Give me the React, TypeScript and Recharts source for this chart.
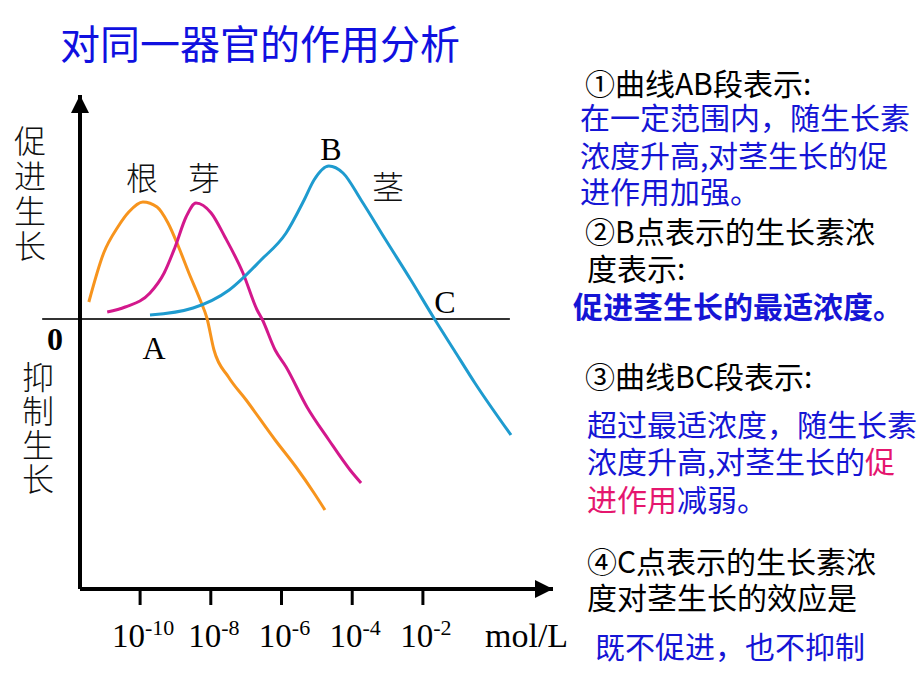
import React from 'react';
import { ComposedChart, Line, XAxis, YAxis, ReferenceLine, ReferenceDot } from 'recharts';

// x: log10 of auxin concentration (mol/L); y: effect on growth (+ promote, - inhibit)
const rootLogConc = [-11.45, -11.03, -10.63, -10.32, -9.92, -9.52, -9.21, -8.91, -8.62, -8.3, -8.11, -7.91, -7.5, -7.0, -6.18, -5.59, -5.08, -4.77];
const rootEffect = [1.7, 6.6, 9.2, 10.7, 11.7, 11.2, 9.6, 7.2, 4.6, 1.9, 0.1, -3.1, -5.8, -8.1, -12.1, -14.8, -17.4, -19.1];
const budLogConc = [-10.93, -10.42, -9.72, -9.32, -9.01, -8.7, -8.42, -7.99, -7.6, -7.09, -6.69, -6.55, -6.18, -5.87, -5.28, -4.66, -4.06, -3.75];
const budEffect = [0.7, 1.2, 2.6, 4.6, 7.2, 10.2, 11.6, 10.6, 8.2, 4.6, 0.9, 0, -3.1, -4.8, -8.8, -12.1, -15.1, -16.4];
const stemLogConc = [-9.72, -8.5, -7.48, -6.58, -5.87, -5.36, -5.08, -4.66, -4.26, -3.75, -3.05, -2.34, -1.69, -1.12, -0.53, 0.49];
const stemEffect = [0.4, 1.1, 2.9, 5.9, 8.6, 11.9, 13.9, 15.3, 14.6, 11.9, 7.9, 3.9, 0.1, -3.1, -6.4, -11.6];
const tickExponents = [-10, -8, -6, -4, -2];
const xDomain = [-11.7, 1.68];
const yDomain = [-27, 22.4];
const zeroLineExtent = [-12.77, 0.46];

const zip = (xs: number[], ys: number[]) => xs.map((x, i) => ({ x, y: ys[i] }));
const rootData = zip(rootLogConc, rootEffect);
const budData = zip(budLogConc, budEffect);
const stemData = zip(stemLogConc, stemEffect);

const CJK = '"CJKTight", "Noto Sans CJK SC", "Noto Sans", sans-serif';
const SERIF = '"Liberation Serif", "Times New Roman", serif';
const BLUE = '#1515D5';
const PINK = '#E5166E';

const FONT_CSS = `
@font-face { font-family: "CJKTight"; font-weight: 300; src: local("Noto Sans CJK SC Light"), local("NotoSansCJKsc-Light"), local("Noto Sans CJK SC Regular"), local("NotoSansCJKsc-Regular"), local("Noto Sans CJK SC"); ascent-override: 88%; descent-override: 12%; line-gap-override: 0%; }
@font-face { font-family: "CJKTight"; font-weight: 400; src: local("Noto Sans CJK SC Regular"), local("NotoSansCJKsc-Regular"), local("Noto Sans CJK SC"); ascent-override: 88%; descent-override: 12%; line-gap-override: 0%; }
@font-face { font-family: "CJKTight"; font-weight: 700; src: local("Noto Sans CJK SC Bold"), local("NotoSansCJKsc-Bold"); ascent-override: 88%; descent-override: 12%; line-gap-override: 0%; }
`;

const PowerTick = (props: any) => {
  const { x, y, payload } = props;
  return (
    <text x={x + 3} y={y + 40} textAnchor="middle" fontFamily={SERIF} fill="#000">
      <tspan fontSize={33}>10</tspan>
      <tspan fontSize={22} dy={-12}>{String(payload.value)}</tspan>
    </text>
  );
};

const RightArrow = (props: any) => {
  const { cx, cy } = props;
  return <polygon points={`${cx},${cy} ${cx - 18},${cy - 9} ${cx - 18},${cy + 9}`} fill="#000" />;
};
const UpArrow = (props: any) => {
  const { cx, cy } = props;
  return <polygon points={`${cx},${cy} ${cx - 9},${cy + 18} ${cx + 9},${cy + 18}`} fill="#000" />;
};

const abs = (left: number, top: number, extra: React.CSSProperties = {}): React.CSSProperties => ({
  position: 'absolute', left, top, whiteSpace: 'nowrap', ...extra,
});

const VerticalLabel = ({ text, left, top, spacing }: { text: string; left: number; top: number; spacing: number }) => (
  <div
    style={abs(left, top, {
      writingMode: 'vertical-rl', textOrientation: 'upright', fontFamily: CJK, fontSize: 32,
      lineHeight: '32px', letterSpacing: spacing, fontWeight: 300, color: '#111',
    })}
  >
    {text}
  </div>
);

const Letter = ({ ch, cx, cy, bold }: { ch: string; cx: number; cy: number; bold?: boolean }) => (
  <div
    style={abs(cx - 20, cy - 16, {
      width: 40, textAlign: 'center', fontFamily: SERIF, fontSize: 32, lineHeight: '32px',
      fontWeight: bold ? 700 : 400, color: '#000',
    })}
  >
    {ch}
  </div>
);

const Organ = ({ ch, cx, cy }: { ch: string; cx: number; cy: number }) => (
  <div style={abs(cx - 16, cy - 16, { fontFamily: CJK, fontSize: 32, lineHeight: '32px', fontWeight: 300, color: '#111' })}>
    {ch}
  </div>
);

type Seg = { t: string; c: string };
const TextLine = ({ left, cy, segs, bold, size = 30 }: { left: number; cy: number; segs: Seg[]; bold?: boolean; size?: number }) => (
  <div
    style={abs(left, cy - Math.round(size * 0.5), {
      fontFamily: CJK, fontSize: size, lineHeight: `${size}px`, fontWeight: bold ? 700 : 400,
    })}
  >
    {segs.map((s, i) => (
      <span key={i} style={{ color: s.c }}>{s.t}</span>
    ))}
  </div>
);

export default function App() {
  return (
    <div style={{ position: 'absolute', left: 0, top: 0, width: 920, height: 690, background: '#fff', overflow: 'hidden' }}>
      <style>{FONT_CSS}</style>
      <ComposedChart
        width={920}
        height={690}
        margin={{ top: 95, right: 367, bottom: 41, left: 20 }}
      >
        <XAxis
          type="number"
          dataKey="x"
          domain={xDomain}
          allowDataOverflow
          ticks={tickExponents}
          tick={<PowerTick />}
          tickSize={16}
          tickLine={{ stroke: '#000', strokeWidth: 3 }}
          axisLine={{ stroke: '#000', strokeWidth: 4 }}
          height={60}
          interval={0}
        />
        <YAxis
          type="number"
          domain={yDomain}
          allowDataOverflow
          tick={false}
          tickLine={false}
          axisLine={{ stroke: '#000', strokeWidth: 4 }}
          width={60}
        />
        <ReferenceLine
          segment={[{ x: zeroLineExtent[0], y: 0 }, { x: zeroLineExtent[1], y: 0 }]}
          stroke="#333"
          strokeWidth={2}
          ifOverflow="visible"
        />
        <Line data={rootData} dataKey="y" type="monotone" stroke="#F7941D" strokeWidth={3} dot={false} isAnimationActive={false} />
        <Line data={budData} dataKey="y" type="monotone" stroke="#D3188C" strokeWidth={3} dot={false} isAnimationActive={false} />
        <Line data={stemData} dataKey="y" type="monotone" stroke="#1E9BCF" strokeWidth={3} dot={false} isAnimationActive={false} />
        <ReferenceDot x={xDomain[1]} y={yDomain[0]} r={0} ifOverflow="visible" shape={<RightArrow />} />
        <ReferenceDot x={xDomain[0]} y={yDomain[1]} r={0} ifOverflow="visible" shape={<UpArrow />} />
      </ComposedChart>

      {/* Title */}
      <div style={abs(60, 24, { fontFamily: CJK, fontSize: 40, lineHeight: '40px', color: '#1010E0' })}>
        对同一器官的作用分析
      </div>

      {/* Axis labels */}
      <VerticalLabel text="促进生长" left={14} top={125} spacing={3} />
      <VerticalLabel text="抑制生长" left={22} top={361} spacing={2} />
      <Letter ch="0" cx={55} cy={339} bold />
      <div style={abs(485, 619, { fontFamily: SERIF, fontSize: 34, lineHeight: '34px', color: '#000' })}>mol/L</div>

      {/* Curve annotations */}
      <Organ ch="根" cx={142} cy={178} />
      <Organ ch="芽" cx={204} cy={178} />
      <Organ ch="茎" cx={388} cy={187} />
      <Letter ch="A" cx={154} cy={348} />
      <Letter ch="B" cx={331} cy={149} />
      <Letter ch="C" cx={445} cy={302} />

      {/* Right explanation */}
      <TextLine left={585} cy={84} segs={[{ t: '①曲线AB段表示:', c: '#000' }]} />
      <TextLine left={580} cy={118} segs={[{ t: '在一定范围内，随生长素', c: BLUE }]} />
      <TextLine left={580} cy={156} segs={[{ t: '浓度升高,对茎生长的促', c: BLUE }]} />
      <TextLine left={580} cy={192} segs={[{ t: '进作用加强。', c: BLUE }]} />
      <TextLine left={585} cy={232} segs={[{ t: '②B点表示的生长素浓', c: '#000' }]} />
      <TextLine left={587} cy={269} segs={[{ t: '度表示:', c: '#000' }]} />
      <TextLine left={573} cy={307} size={30} bold segs={[{ t: '促进茎生长的最适浓度。', c: BLUE }]} />
      <TextLine left={585} cy={377} segs={[{ t: '③曲线BC段表示:', c: '#000' }]} />
      <TextLine left={587} cy={425} segs={[{ t: '超过最适浓度，随生长素', c: BLUE }]} />
      <TextLine left={587} cy={462} segs={[{ t: '浓度升高,对茎生长的', c: BLUE }, { t: '促', c: PINK }]} />
      <TextLine left={587} cy={500} segs={[{ t: '进作用', c: PINK }, { t: '减弱。', c: BLUE }]} />
      <TextLine left={587} cy={562} segs={[{ t: '④C点表示的生长素浓', c: '#000' }]} />
      <TextLine left={587} cy={598} segs={[{ t: '度对茎生长的效应是', c: '#000' }]} />
      <TextLine left={595} cy={647} segs={[{ t: '既不促进，也不抑制', c: BLUE }]} />
    </div>
  );
}
